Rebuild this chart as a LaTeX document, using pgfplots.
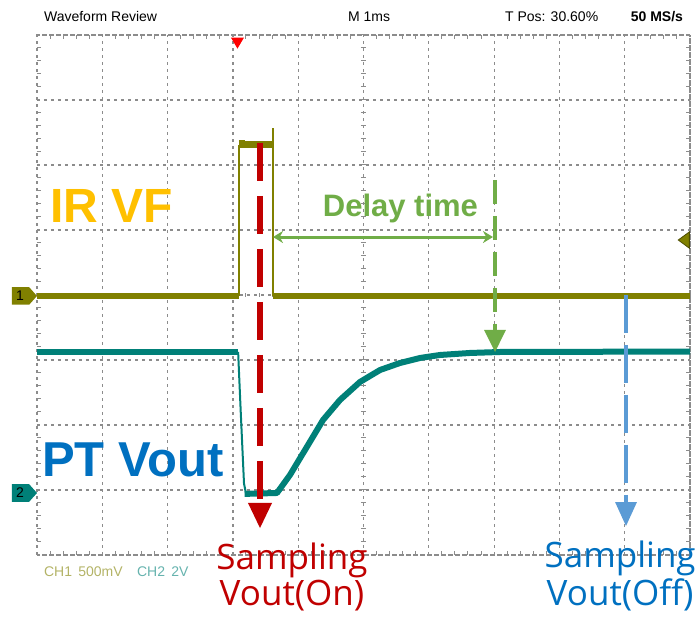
\documentclass[border=0pt]{standalone}
\usepackage{pgfplots}
\pgfplotsset{compat=1.18}
\usetikzlibrary{arrows.meta}
\usepackage{fontspec}
\setmainfont{Liberation Sans}
\newfontfamily\segoe{Open Sans}
\definecolor{chone}{RGB}{128,128,0}
\definecolor{chtwo}{RGB}{0,128,120}
\definecolor{irvf}{RGB}{255,192,0}
\definecolor{ptblue}{RGB}{0,112,192}
\definecolor{dgreen}{RGB}{112,173,71}
\definecolor{dred}{RGB}{192,0,0}
\definecolor{lblue}{RGB}{91,155,213}
\definecolor{gridc}{RGB}{140,140,140}
\begin{document}
\begin{tikzpicture}
\begin{axis}[
  scale only axis, width=326.5pt, height=260pt,
  xmin=0,xmax=10,ymin=-4,ymax=4,
  xtick={0,...,10}, ytick={-4,...,4},
  xticklabels={}, yticklabels={},
  xmajorgrids=true, ymajorgrids=true,
  major grid style={gridc, line width=0.6pt, dash pattern=on 1.5pt off 2pt},
  axis line style={gridc, line width=0.6pt, dash pattern=on 1.5pt off 2pt},
  major tick length=0.01pt,
  minor x tick num=4, minor y tick num=4,
  minor tick length=2pt,
  minor tick style={gridc, line width=0.5pt},
  tick align=inside,
  clip=false,
]
% centre cross ticks
\pgfplotsinvokeforeach{0.2,0.4,...,9.9}{
  \draw[gridc, line width=0.5pt] (axis cs:#1,-0.03) -- (axis cs:#1,0.03);
}
\pgfplotsinvokeforeach{-3.8,-3.6,...,3.9}{
  \draw[gridc, line width=0.5pt] (axis cs:4.96,#1) -- (axis cs:5.04,#1);
}
% CH1 trace
\addplot[chone, line width=3.2pt] coordinates {(0,-0.02) (3.09,-0.02)};
\addplot[chone, line width=3.2pt] coordinates {(3.61,-0.02) (10,-0.02)};
\addplot[chone, line width=0.8pt] coordinates {(3.09,-0.02) (3.09,2.31)};
\addplot[chone, line width=0.8pt] coordinates {(3.61,-0.02) (3.61,2.57)};
\addplot[chone, line width=3.5pt] coordinates {(3.09,2.31) (3.61,2.31)};
\addplot[chone, line width=2pt] coordinates {(3.09,2.36) (3.19,2.36)};
% CH2 trace
\addplot[chtwo, line width=3pt] coordinates {(0,-0.877) (3.08,-0.877)};
\addplot[chtwo, line width=1pt] coordinates {(3.08,-0.877) (3.12,-1.8) (3.17,-2.9) (3.2,-3.05)};
\addplot[chtwo, line width=3pt, line join=round] coordinates {
 (3.18,-3.06) (3.675,-3.046) (3.874,-2.769) (4.104,-2.385) (4.380,-1.923)
 (4.640,-1.615) (4.946,-1.338) (5.253,-1.154) (5.559,-1.046) (5.865,-0.969)
 (6.172,-0.923) (6.631,-0.892) (7.090,-0.877) (10,-0.870)};
% header
\node[anchor=base west, font=\fontsize{7}{8}\selectfont] at (axis cs:0,4.2) {Waveform Review};
\node[anchor=base west, font=\fontsize{7}{8}\selectfont] at (axis cs:4.655,4.2) {M 1ms};
\node[anchor=base west, font=\fontsize{7}{8}\selectfont] at (axis cs:7.06,4.2) {T Pos: 30.60\%};
\node[anchor=base east, font=\bfseries\fontsize{7}{8}\selectfont] at (axis cs:10,4.2) {50 MS/s};
% trigger marker
\fill[red] (axis cs:2.97,3.96) -- (axis cs:3.17,3.96) -- (axis cs:3.07,3.79) -- cycle;
% bottom labels
\node[anchor=base west, font=\fontsize{7}{8}\selectfont, text=chone!60] at (axis cs:0,-4.338) {CH1\, 500mV};
\node[anchor=base west, font=\fontsize{7}{8}\selectfont, text=chtwo!60] at (axis cs:1.424,-4.338) {CH2\, 2V};
% channel markers
\fill[chone] (axis cs:-0.383,0.12) -- (axis cs:-0.12,0.12) -- (axis cs:0,-0.015) -- (axis cs:-0.12,-0.15) -- (axis cs:-0.383,-0.15) -- cycle;
\node[font=\fontsize{7}{8}\selectfont] at (axis cs:-0.26,-0.015) {1};
\fill[chtwo] (axis cs:-0.383,-2.911) -- (axis cs:-0.12,-2.911) -- (axis cs:0,-3.046) -- (axis cs:-0.12,-3.181) -- (axis cs:-0.383,-3.181) -- cycle;
\node[font=\fontsize{7}{8}\selectfont] at (axis cs:-0.26,-3.046) {2};
\fill[chone, draw=chone!60!black, line width=0.4pt] (axis cs:9.82,0.846) -- (axis cs:9.99,0.97) -- (axis cs:9.99,0.72) -- cycle;
% annotations
\node[anchor=base west, font=\bfseries\fontsize{24}{26}\selectfont, text=irvf] at (axis cs:0.1,1.108) {IR VF};
\node[anchor=base west, font=\bfseries\fontsize{24.5}{26}\selectfont, text=ptblue] at (axis cs:-0.03,-2.8) {PT Vout};
\node[anchor=base west, font=\bfseries\fontsize{15.5}{17}\selectfont, text=dgreen] at (axis cs:4.27,1.215) {Delay time};
\draw[dgreen, line width=1.5pt, {Stealth[length=5pt,width=6pt]}-{Stealth[length=5pt,width=6pt]}] (axis cs:3.614,0.892) -- (axis cs:6.983,0.892);
% red arrow
\draw[dred, line width=2.8pt, dash pattern=on 19pt off 7.5pt] (axis cs:3.415,2.34) -- (axis cs:3.415,-3.22);
\fill[dred] (axis cs:3.231,-3.2) -- (axis cs:3.599,-3.2) -- (axis cs:3.415,-3.585) -- cycle;
% green arrow
\draw[dgreen, line width=1.8pt, dash pattern=on 12pt off 6pt] (axis cs:7.014,1.77) -- (axis cs:7.014,-0.55);
\fill[dgreen] (axis cs:6.846,-0.538) -- (axis cs:7.182,-0.538) -- (axis cs:7.014,-0.877) -- cycle;
% blue arrow
\draw[lblue, line width=2pt, dash pattern=on 19pt off 6pt] (axis cs:9.02,0) -- (axis cs:9.02,-3.19);
\fill[lblue] (axis cs:8.852,-3.185) -- (axis cs:9.188,-3.185) -- (axis cs:9.02,-3.554) -- cycle;
% sampling labels
\node[anchor=base, font=\segoe\fontsize{17.5}{19}\selectfont, text=dred] at (axis cs:3.905,-4.23) {Sampling};
\node[anchor=base, font=\segoe\fontsize{17.5}{19}\selectfont, text=dred] at (axis cs:3.905,-4.78) {Vout(On)};
\node[anchor=base, font=\segoe\fontsize{17.5}{19}\selectfont, text=ptblue] at (axis cs:8.93,-4.2) {Sampling};
\node[anchor=base, font=\segoe\fontsize{17.5}{19}\selectfont, text=ptblue] at (axis cs:8.93,-4.77) {Vout(Off)};
\coordinate (bl) at (axis cs:-0.5666,-4.9538);
\coordinate (tr) at (axis cs:10.1531,4.5385);
\end{axis}
\pgfresetboundingbox
\path[use as bounding box] (bl) rectangle (tr);
\end{tikzpicture}
\end{document}
